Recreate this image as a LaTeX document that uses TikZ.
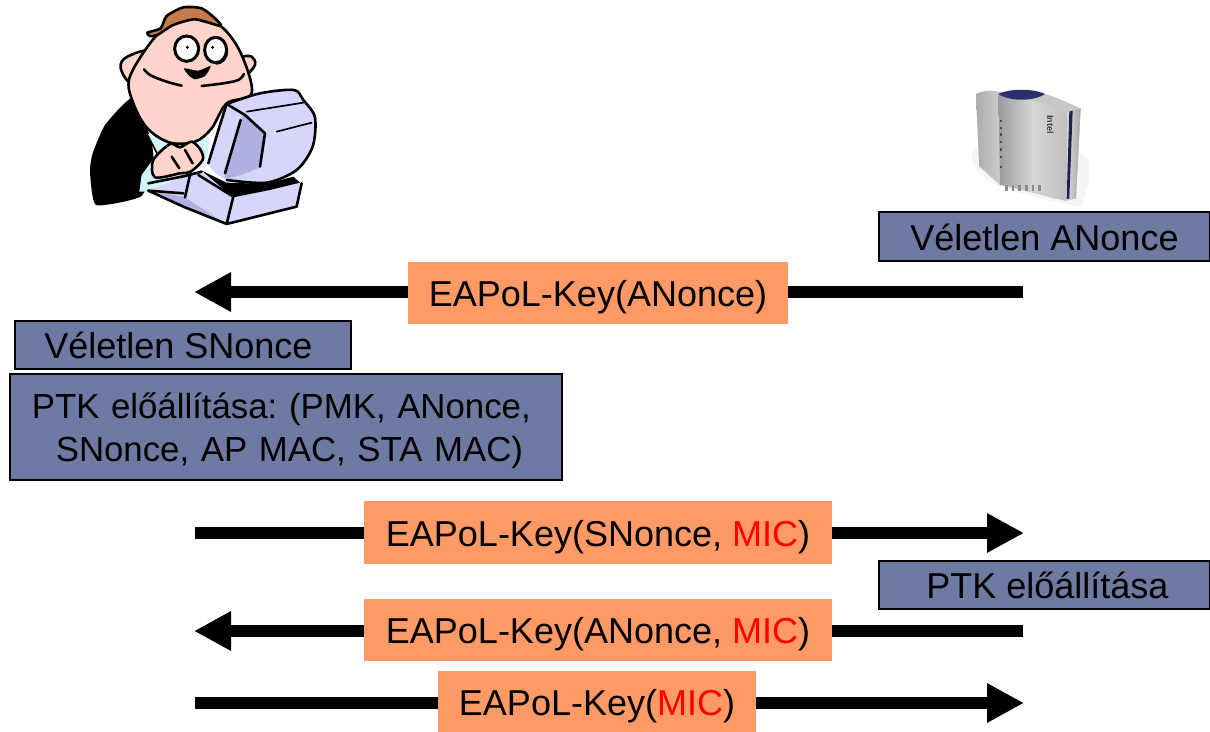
\documentclass[tikz,border=0pt]{standalone}
\usepackage{fontspec}
\setmainfont{Liberation Sans}
\usetikzlibrary{arrows.meta}
\definecolor{boxblue}{HTML}{6F7AA3}
\definecolor{boxorange}{HTML}{FF9966}
\definecolor{skin}{HTML}{FFD5CB}
\definecolor{hairc}{HTML}{C47A4A}
\definecolor{shirtc}{HTML}{CFF6FA}
\definecolor{screenl}{HTML}{D6D6FA}
\definecolor{screend}{HTML}{B0B0E2}
\definecolor{navyc}{HTML}{2B2F6B}
\tikzset{
  x=1pt,y=-1pt,
  lbl/.style={font=\fontsize{36}{43}\selectfont,text=black,inner sep=0pt,text height=27pt,text depth=0pt},
  bluebox/.style={lbl,fill=boxblue,draw=black,line width=1.6pt},
  msgbox/.style={lbl,fill=boxorange},
  bigarrow/.style={line width=12pt,-{Triangle[length=37pt,width=37pt]},black},
  ink/.style={draw=black,line width=2.6pt,line join=round,line cap=round},
  inkthin/.style={draw=black,line width=1.7pt,line cap=round},
}
\begin{document}
\begin{tikzpicture}
\useasboundingbox (0,0) rectangle (1210,731);
\fill[white] (0,0) rectangle (1210,731);

% --- person at the computer (coordinates of a 3x crop)
\begin{scope}[shift={(70,0)},x=0.3333pt,y=-0.3333pt]
  % jacket
  \fill[black] plot[smooth cycle,tension=.3] coordinates {(185,295)(105,375)(68,460)(60,515)(78,615)(215,588)(250,470)(235,395)};
  % shirt
  \fill[shirtc] (230,400)--(300,430)--(420,415)--(405,495)--(240,575)--(208,575)--(215,525)--(262,462)--cycle;
  \draw[inkthin] (230,400)--(262,462);
  % ears
  \draw[ink,fill=skin] plot[smooth,tension=.7] coordinates {(195,265)(160,225)(155,185)(195,160)(235,150)};
  \draw[ink,fill=skin] plot[smooth,tension=.7] coordinates {(515,170)(545,170)(555,195)(530,225)};
  % head
  \draw[ink,fill=skin] plot[smooth cycle,tension=.55] coordinates {(240,130)(300,75)(385,50)(460,85)(515,165)(545,280)(470,310)(425,385)(375,425)(300,428)(232,385)(190,310)(178,235)};
  % hair
  \draw[ink,fill=hairc] plot[smooth cycle,tension=.4] coordinates {(232,98)(272,85)(290,48)(340,22)(395,25)(435,55)(452,78)(375,58)(310,75)(262,105)(240,108)};
  % eyes
  \draw[black,line width=3pt,fill=white] (350,146) ellipse (36 and 38);
  \draw[black,line width=3pt,fill=white] (437,150) ellipse (33 and 38);
  \fill[black] (352,142) circle (5) (428,142) circle (5);
  \draw[black,line width=3pt] (470,155) .. controls (470,175) and (455,190) .. (437,190);
  % mouth
  \fill[black] plot[smooth cycle,tension=.4] coordinates {(342,205)(385,212)(422,198)(405,228)(375,238)(358,228)};
  \draw[ink] plot[smooth,tension=.6] coordinates {(222,208)(242,226)(290,245)(335,257)};
  \draw[ink] plot[smooth,tension=.6] coordinates {(395,258)(460,250)(505,240)(522,222)};
  % monitor
  \fill[screenl] plot[smooth cycle,tension=.35] coordinates {(470,312)(570,280)(672,270)(700,300)(735,352)(728,440)(680,510)(590,545)(470,540)(415,490)(450,375)};
  \fill[screend] plot[smooth cycle,tension=.25] coordinates {(520,345)(585,400)(570,500)(480,535)(465,530)(490,430)};
  \draw[ink] plot[smooth,tension=.5] coordinates {(470,312)(570,280)(672,270)(700,300)(735,352)(728,440)(680,510)(590,548)(470,540)};
  \draw[ink] plot[smooth,tension=.4] coordinates {(470,312)(450,375)(415,490)};
  \draw[ink] (470,312)--(525,345)--(585,400)--(570,500);
  \draw[ink] (512,360)--(465,520);
  \draw[inkthin] (530,335)--(700,308);
  \draw[inkthin] (620,395)--(725,368);
  % base
  \fill[screenl] (235,572)--(355,525)--(395,515)--(480,565)--(600,555)--(690,548)--(680,620)--(470,672)--(340,618)--cycle;
  \fill[screend] (235,572)--(340,590)--(470,672)--(340,618)--cycle;
  \fill[black] (395,512)--(470,548)--(590,552)--(670,530)--(690,548)--(600,570)--(490,592)--cycle;
  \draw[ink] (235,550)--(345,528)--(395,515);
  \draw[ink] (235,572)--(340,580);
  \draw[ink] (360,525)--(345,592);
  \draw[ink] (385,525)--(490,590)--(470,672);
  \draw[ink] (470,672)--(680,620)--(695,550);
  \draw[ink] (235,572)--(340,620)--(470,672);
  % hands
  \draw[ink,fill=skin] plot[smooth cycle,tension=.5] coordinates {(250,480)(300,432)(330,442)(365,425)(392,450)(398,480)(362,515)(330,520)(255,532)};
  \draw[ink] (305,470)--(328,505);
  \draw[ink] (345,450)--(368,490);
\end{scope}

% --- access point (coordinates of a 3x crop)
\begin{scope}[shift={(950,70)},x=0.3333pt,y=-0.3333pt]
  \fill[gray!8] plot[smooth cycle,tension=.6] coordinates {(75,290)(150,350)(360,405)(400,390)(395,250)(100,230)};
  \fill[gray!45] (78,72) .. controls (100,60) and (130,60) .. (145,65) -- (285,72) .. controls (330,85) and (365,105) .. (392,115) -- (378,385) -- (350,392) -- (150,345) -- (88,290) -- cycle;
  \shade[left color=gray!65,right color=gray!40] (78,72) .. controls (100,62) and (125,62) .. (145,70) -- (150,345) .. controls (125,310) and (105,295) .. (88,290) -- cycle;
  \shade[left color=gray!78,right color=gray!50,middle color=gray!32] (145,72)--(240,92) .. controls (290,100) and (320,120) .. (352,128) -- (350,392) .. controls (290,385) and (210,350) .. (150,345) -- cycle;
  \shade[left color=gray!30,right color=gray!70] (352,128)--(392,115)--(378,385)--(350,392)--cycle;
  \fill[navyc!70!black] (358,125)--(368,122)--(358,385)--(350,388)--cycle;
  \fill[navyc] (145,72) .. controls (180,55) and (250,55) .. (285,72) .. controls (250,95) and (180,95) .. (145,72);
  \foreach \yy in {150,170,190,212,235,258,288} \fill[black!70] (149,\yy) rectangle (156,\yy+7);
  \foreach \xx in {165,185,205,225,245,265} \fill[black!45] (\xx,345) rectangle (\xx+8,362);
  \node[rotate=-90,inner sep=0pt,font=\fontsize{9}{9}\selectfont\bfseries,text=black!75] at (301,163) {Intel};
\end{scope}

% --- endpoints of the connectors
\coordinate (a1r) at (1023,292);
\coordinate (a1l) at (194,292);
\coordinate (a2l) at (195,533);
\coordinate (a2r) at (1024,533);
\coordinate (a3r) at (1023,631);
\coordinate (a3l) at (194,631);
\coordinate (a4l) at (195,703);
\coordinate (a4r) at (1024,703);

\draw[bigarrow] (a1r) -- (a1l);
\draw[bigarrow] (a2l) -- (a2r);
\draw[bigarrow] (a3r) -- (a3l);
\draw[bigarrow] (a4l) -- (a4r);

% --- blue boxes
\node[bluebox,minimum width=331pt,minimum height=49pt] (anonce) at (1044.5,236.5) {Véletlen ANonce};
\node[bluebox,minimum width=336pt,minimum height=48pt] (snonce) at (183,345) {Véletlen SNonce\hspace*{9pt}};
\node[bluebox,anchor=north west,minimum height=106pt,text width=530pt,inner xsep=11pt,align=left,text height=,text depth=,font=\fontsize{34.8}{43}\selectfont] (ptksta) at (9,373) {\frenchspacing\rule{0pt}{34pt}\hspace*{11pt}PTK előállítása: (PMK, ANonce,\\\hspace*{35pt}SNonce, AP MAC, STA MAC)};
\node[bluebox,minimum width=331pt,minimum height=48pt] (ptkap) at (1044.5,585) {\hspace*{6pt}PTK előállítása};

% --- message boxes
\node[msgbox,minimum width=380pt,minimum height=62pt] (m1) at (598,293) {EAPoL-Key(ANonce)};
\node[msgbox,minimum width=468pt,minimum height=63pt] (m2) at (598,532.5) {EAPoL-Key(SNonce, \textcolor{red}{MIC})};
\node[msgbox,minimum width=468pt,minimum height=62pt] (m3) at (598,630) {EAPoL-Key(ANonce, \textcolor{red}{MIC})};
\node[msgbox,minimum width=318pt,minimum height=62pt] (m4) at (597,702) {EAPoL-Key(\textcolor{red}{MIC})};
\end{tikzpicture}
\end{document}
